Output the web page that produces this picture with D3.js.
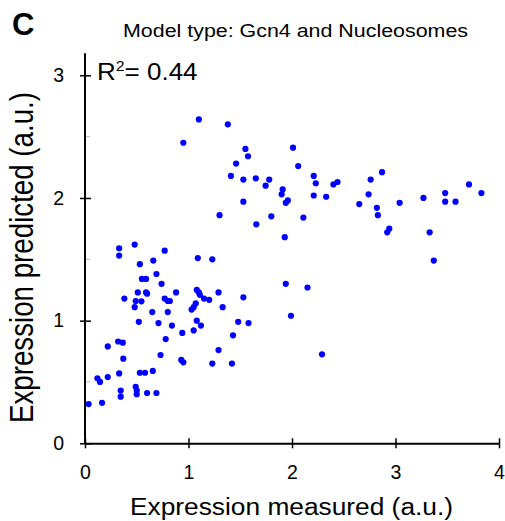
<!DOCTYPE html>
<html>
<head>
<meta charset="utf-8">
<script src="https://cdn.jsdelivr.net/npm/d3@7"></script>
<style>
  body { margin: 0; background: #fff; }
  text { font-family: "Liberation Sans", Arial, sans-serif; }
</style>
</head>
<body>
<svg id="chart" width="505" height="521"></svg>
<script>
// measured vs predicted expression
const measured = [
  1.10, 0.95, 1.30, 0.33, 0.33, 0.48, 0.77, 0.53, 0.66, 1.09, 1.23, 0.69,
  0.55, 0.59, 0.74, 0.51, 0.59, 0.60, 0.88, 0.38, 0.49, 0.545, 0.48, 0.77,
  0.80, 0.82, 1.08, 1.10, 1.11, 1.15, 1.20, 1.29, 1.03, 1.05, 1.07, 0.65,
  0.80, 0.52, 0.71, 0.84, 1.08, 1.12, 1.05, 0.94, 0.78, 0.32, 0.365, 0.22,
  1.29, 0.37, 0.73, 0.93, 0.95, 1.23, 0.12, 0.145, 0.22, 0.33, 0.53, 0.58,
  0.655, 0.345, 0.345, 0.49, 0.50, 0.50, 0.60, 0.69, 0.035, 0.165,
  1.38, 1.55, 1.575, 1.46, 2.01, 2.06, 1.41, 1.53, 1.65, 1.78, 1.745, 1.91,
  1.90, 1.96, 1.94, 2.21, 2.23, 2.40, 2.44, 2.21, 2.33, 1.53, 2.65, 1.80,
  2.11, 1.655, 1.93, 1.33, 1.53, 1.94, 2.15, 1.99, 1.48, 1.58, 1.43, 1.42,
  2.29, 2.87, 2.76, 2.74, 2.82, 2.83, 3.04, 2.94, 2.92, 3.27, 3.33, 3.37,
  3.48, 3.48, 3.58, 3.71, 3.83
];
const predicted = [
  2.64, 2.45, 1.86, 1.59, 1.53, 1.62, 1.57, 1.46, 1.49, 1.51, 1.50, 1.38,
  1.34, 1.34, 1.30, 1.23, 1.23, 1.22, 1.23, 1.18, 1.16, 1.157, 1.11, 1.18,
  1.16, 1.16, 1.25, 1.23, 1.21, 1.18, 1.17, 1.23, 1.09, 1.11, 1.14, 1.07,
  1.07, 0.99, 0.98, 0.96, 1.00, 0.96, 0.92, 0.90, 0.85, 0.83, 0.82, 0.79,
  0.76, 0.69, 0.72, 0.68, 0.66, 0.65, 0.53, 0.50, 0.54, 0.57, 0.575, 0.575,
  0.59, 0.43, 0.38, 0.46, 0.43, 0.40, 0.41, 0.41, 0.32, 0.33,
  2.60, 2.40, 2.34, 2.28, 2.41, 2.26, 2.18, 2.15, 2.16, 2.15, 2.10, 2.07,
  2.03, 1.98, 1.96, 2.18, 2.12, 2.11, 2.13, 2.02, 2.01, 1.97, 1.95, 1.85,
  1.84, 1.785, 1.68, 1.11, 1.19, 1.30, 1.27, 1.04, 0.99, 0.98, 0.88, 0.65,
  0.725, 2.21, 2.15, 2.03, 1.92, 1.86, 1.96, 1.75, 1.72, 2.00, 1.72, 1.49,
  2.04, 1.97, 1.97, 2.11, 2.04
];
const xTicks = [0, 1, 2, 3, 4];
const yTicks = [0, 1, 2, 3];
const yMinor = [0.5, 1.5, 2.5];

const points = measured.map((m, i) => ({ m: m, p: predicted[i] }));

const svg = d3.select("#chart");

const x = d3.scaleLinear().domain([0, 4]).range([85, 499]);
const y = d3.scaleLinear().domain([0, 3]).range([443.3, 75.3]);

// minor y ticks (grey)
svg.selectAll(".minor")
  .data(yMinor)
  .join("line")
  .attr("class", "minor")
  .attr("x1", x(0))
  .attr("x2", x(0) + 5)
  .attr("y1", d => y(d))
  .attr("y2", d => y(d))
  .attr("stroke", "#bbb")
  .attr("stroke-width", 1);

// x axis
const gx = svg.append("g")
  .attr("transform", `translate(0,${y(0)})`)
  .call(d3.axisBottom(x).tickValues(xTicks).tickFormat(d3.format("d")).tickSize(5).tickSizeOuter(0));
gx.select(".domain").attr("stroke", "#000").attr("stroke-width", 2);
gx.selectAll(".tick line").attr("y1", -5).attr("y2", 5).attr("stroke-width", 1.5);
gx.selectAll(".tick text")
  .attr("y", 22)
  .style("font-family", "Liberation Sans, Arial, sans-serif")
  .style("font-size", "19.5px")
  .attr("fill", "#000");

// y axis
const gy = svg.append("g")
  .attr("transform", `translate(${x(0)},0)`)
  .call(d3.axisLeft(y).tickValues(yTicks).tickFormat(d3.format("d")).tickSize(5).tickSizeOuter(0));
gy.select(".domain").remove();
gy.append("line")
  .attr("x1", 0).attr("x2", 0)
  .attr("y1", y(0)).attr("y2", y(3.18))
  .attr("stroke", "#000").attr("stroke-width", 2);
gy.selectAll(".tick line").attr("x1", -5).attr("x2", 6).attr("stroke-width", 1.5);
gy.selectAll(".tick text")
  .attr("x", -21)
  .style("font-family", "Liberation Sans, Arial, sans-serif")
  .style("font-size", "19.5px")
  .attr("fill", "#000");

// points
svg.selectAll(".dot")
  .data(points)
  .join("circle")
  .attr("class", "dot")
  .attr("cx", d => x(d.m))
  .attr("cy", d => y(d.p))
  .attr("r", 3.1)
  .attr("fill", "#0000ff");

// labels
svg.append("text")
  .attr("x", 12).attr("y", 35)
  .style("font-size", "31px").style("font-weight", "bold")
  .text("C");

svg.append("text")
  .attr("x", 123).attr("y", 37)
  .style("font-size", "17.5px")
  .attr("textLength", 345).attr("lengthAdjust", "spacingAndGlyphs")
  .text("Model type: Gcn4 and Nucleosomes");

const r2 = svg.append("text")
  .attr("transform", "translate(97,80) scale(1.13,1)")
  .style("font-size", "23px");
r2.append("tspan").text("R");
r2.append("tspan").attr("dy", -9).style("font-size", "14px").text("2");
r2.append("tspan").attr("dy", 9).text("= 0.44");

svg.append("text")
  .attr("x", 130).attr("y", 515)
  .style("font-size", "23px")
  .attr("textLength", 323).attr("lengthAdjust", "spacingAndGlyphs")
  .text("Expression measured (a.u.)");

svg.append("text")
  .attr("transform", "translate(33,423) scale(1.2,1) rotate(-90)")
  .style("font-size", "27px")
  .attr("textLength", 331).attr("lengthAdjust", "spacingAndGlyphs")
  .text("Expression predicted (a.u.)");
</script>
</body>
</html>
